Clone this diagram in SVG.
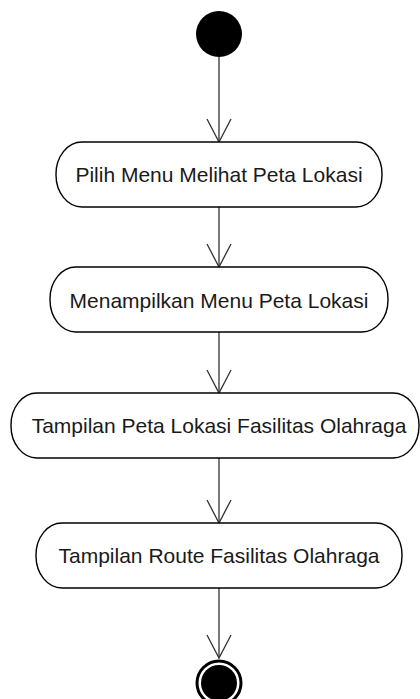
<svg xmlns="http://www.w3.org/2000/svg" width="420" height="699" viewBox="0 0 420 699">
<style>
.node rect{fill:#fff;stroke:#000;stroke-width:1.4}
.node text{font-family:"Liberation Sans",Arial,sans-serif;font-size:21px;fill:#1a1a1a;text-anchor:middle}
.conn line{stroke:#333;stroke-width:1.3;marker-end:url(#arr)}
</style>
<defs>
<marker id="arr" markerWidth="30" markerHeight="30" refX="23" refY="12" orient="auto" markerUnits="userSpaceOnUse" overflow="visible">
<path d="M0,0 L23,12 L0,24" fill="none" stroke="#333" stroke-width="1.3"/>
</marker>
</defs>
<rect width="420" height="699" fill="#fff"/>
<g id="connectors" class="conn">
<line x1="219" y1="57" x2="219" y2="142"/>
<line x1="219" y1="207" x2="219" y2="267"/>
<line x1="219" y1="332" x2="219" y2="393"/>
<line x1="219" y1="458" x2="219" y2="523"/>
<line x1="219" y1="588" x2="219" y2="658"/>
</g>
<g id="start"><circle cx="219" cy="34" r="23" fill="#000"/></g>
<g id="n1" class="node"><rect x="56" y="142" width="326" height="65" rx="26" ry="32"/><text x="219" y="182">Pilih Menu Melihat Peta Lokasi</text></g>
<g id="n2" class="node"><rect x="50" y="267" width="338" height="65" rx="26" ry="32"/><text x="219" y="307.5">Menampilkan Menu Peta Lokasi</text></g>
<g id="n3" class="node"><rect x="11" y="393" width="408" height="65" rx="26" ry="32"/><text x="219" y="432.5">Tampilan Peta Lokasi Fasilitas Olahraga</text></g>
<g id="n4" class="node"><rect x="36" y="523" width="366" height="65" rx="26" ry="32"/><text x="219" y="563">Tampilan Route Fasilitas Olahraga</text></g>
<g id="end"><circle cx="219" cy="683" r="22" fill="#fff" stroke="#000" stroke-width="3"/><circle cx="219" cy="683" r="18" fill="#000"/></g>
</svg>
